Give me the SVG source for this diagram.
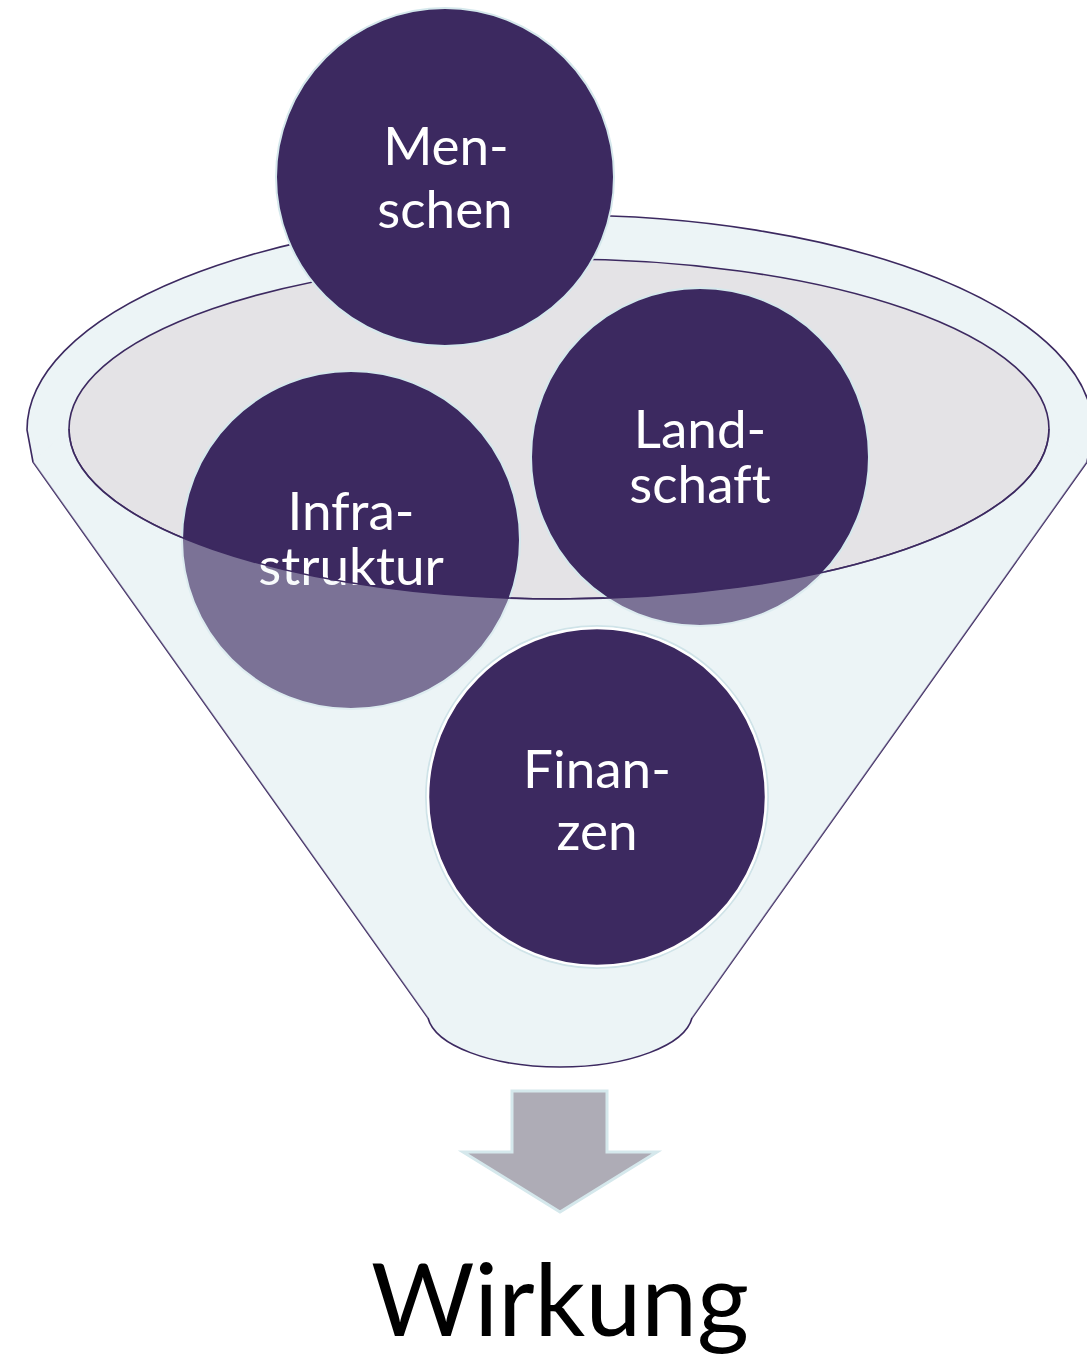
<svg xmlns="http://www.w3.org/2000/svg" width="1087" height="1355" viewBox="0 0 1087 1355">
<style>
.ln{fill:none;stroke:#3C2960;stroke-width:1.6}
.node circle.c{fill:#3C2960;stroke:#D5E8EC;stroke-width:2}
.lbl{font-family:Lato,"Open Sans","Liberation Sans",sans-serif;font-size:53px;fill:#FFFFFF;text-anchor:middle;font-variant-ligatures:none;font-feature-settings:"liga" 0}
</style>
<g id="funnel">
<path d="M33,462 L27,430 A533,215 0 0 1 1093,430 L1087,462 L692,1018 C685,1045 630,1067 560,1067 C490,1067 435,1045 428,1018 Z" fill="#ECF4F6" stroke="#3C2960" stroke-width="1.6"/>
<ellipse cx="559" cy="429" rx="490" ry="170" fill="#E4E3E6" stroke="#3C2960" stroke-width="1.6"/>
</g>
<g id="node-menschen" class="node">
<circle class="c" cx="445" cy="177" r="169"/>
<text class="lbl" x="446" y="165">Men-</text>
<text class="lbl" x="445" y="228">schen</text>
</g>
<g id="node-infrastruktur" class="node">
<circle class="c" cx="351" cy="540" r="169"/>
<text class="lbl" x="351" y="530">Infra-</text>
<text class="lbl" x="351" y="585">struktur</text>
</g>
<g id="node-landschaft" class="node">
<circle class="c" cx="700" cy="457" r="169"/>
<text class="lbl" x="700" y="448">Land-</text>
<text class="lbl" x="700" y="503">schaft</text>
</g>
<g id="funnel-front">
<path d="M69,429 A490,170 0 0 0 1049,429 L1087,462 L692,1018 L428,1018 L33,462 Z" fill="#ECF4F6" fill-opacity="0.36"/>
<path class="ln" d="M69,429 A490,170 0 0 0 1049,429"/>
</g>
<g id="node-finanzen" class="node">
<circle cx="597" cy="797" r="171" fill="none" stroke="#CFE3E8" stroke-width="2"/>
<circle cx="597" cy="797" r="169" fill="#3C2960" stroke="#FFFFFF" stroke-width="2.5"/>
<text class="lbl" x="597" y="788">Finan-</text>
<text class="lbl" x="597" y="850">zen</text>
</g>
<g id="connectors">
<path d="M512,1091 L607,1091 L607,1152 L657,1152 L560,1212 L463,1152 L512,1152 Z" fill="#AEACB6" stroke="#D5E8EC" stroke-width="3"/>
</g>
<g id="node-wirkung">
<text x="560" y="1336" font-family="Lato,'Open Sans','Liberation Sans',sans-serif" font-size="100" fill="#000000" text-anchor="middle">Wirkung</text>
</g>
</svg>
